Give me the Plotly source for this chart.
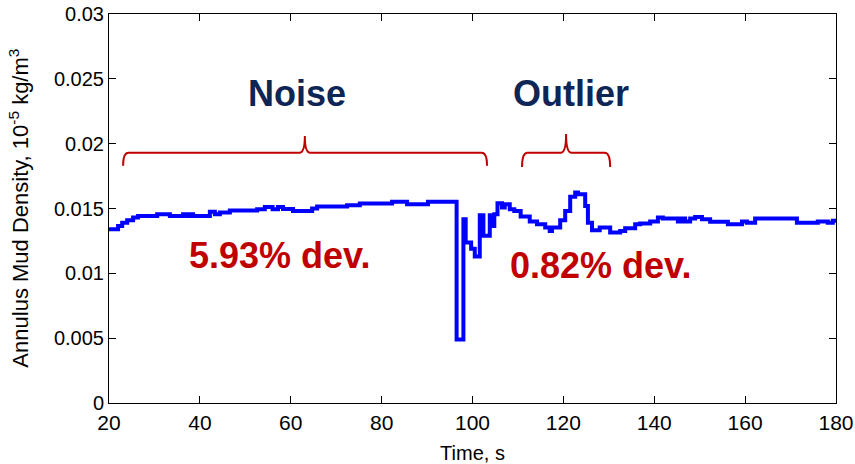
import plotly.graph_objects as go

# Stair-step record of annulus mud density (start time of each step, value)
time_s = [20, 22, 22.9, 24, 25.3, 26.4, 30.6, 33.4, 36.3, 37.2, 37.8, 38.5,
          42.2, 43.3, 44.4, 46.6, 52.6, 54.3, 56, 57.2, 58.3, 60.5, 64.7,
          65.8, 72.4, 75.2, 82.3, 85.6, 90.2, 96.5, 98.0, 98.5, 99.7, 100.5,
          101.6, 102.4, 103.8, 104.2, 104.8, 105.5, 106.5, 107.1, 108.2,
          109.2, 110.6, 112.6, 114.2, 116, 117, 117.5, 119.3, 120.4, 121.5,
          122.6, 123.2, 124.8, 125.4, 126.3, 128, 130.3, 132.5, 133.6, 135.8,
          136.9, 139.1, 140.8, 141.9, 145.2, 146, 146.8, 147.9, 149, 150.5,
          152.3, 156.2, 159.3, 160.4, 162.2, 171.4, 176, 178.2, 179.3, 180]
density = [0.0134, 0.01366, 0.0139, 0.0141, 0.0143, 0.01443, 0.01456, 0.01443,
           0.01456, 0.01443, 0.01456, 0.01443, 0.01474, 0.01456, 0.01469,
           0.01485, 0.01494, 0.01512, 0.01494, 0.01512, 0.01497, 0.01481,
           0.0150, 0.01515, 0.01525, 0.01538, 0.01553, 0.01533, 0.01553,
           0.0049, 0.01417, 0.01237, 0.0119, 0.01129, 0.01448, 0.01289,
           0.01448, 0.01366, 0.01456, 0.01541, 0.01507, 0.01533, 0.01494,
           0.01481, 0.01438, 0.0140, 0.01379, 0.01353, 0.01327, 0.01353,
           0.0141, 0.01481, 0.0159, 0.01623, 0.0161, 0.0152, 0.0139, 0.01332,
           0.01353, 0.01314, 0.01327, 0.01348, 0.01379, 0.01384, 0.0140,
           0.0143, 0.01422, 0.0140, 0.01422, 0.0140, 0.01422, 0.01435,
           0.01417, 0.01398, 0.01379, 0.0140, 0.0139, 0.01422, 0.0139,
           0.0140, 0.0139, 0.01405, 0.01405]

x_ticks = [20, 40, 60, 80, 100, 120, 140, 160, 180]
y_ticks = [0, 0.005, 0.01, 0.015, 0.02, 0.025, 0.03]
y_tick_text = ["0", "0.005", "0.01", "0.015", "0.02", "0.025", "0.03"]

# Brace spans: (start, peak, end) in seconds, and heights in density units
noise_brace = (23.1, 63.1, 103.2)
outlier_brace = (110.9, 120.6, 130.3)
brace_base = 0.0193
noise_tip, noise_peak = 0.0183, 0.0206
outlier_tip, outlier_peak = 0.0182, 0.02075

FONT = "Liberation Sans, Arial, sans-serif"
NAVY = "#0d2656"
RED = "#c00000"


def brace_path(x0, xm, x1, base, tip, peak, r=1.2):
    return (f"M {x0},{tip} Q {x0},{base} {x0 + r},{base} "
            f"L {xm - r},{base} Q {xm},{base} {xm},{peak} "
            f"Q {xm},{base} {xm + r},{base} "
            f"L {x1 - r},{base} Q {x1},{base} {x1},{tip}")


fig = go.Figure()
fig.add_trace(go.Scatter(
    x=time_s, y=density, mode="lines", line_shape="hv",
    line=dict(color="#0000ff", width=4), showlegend=False,
))

for (x0, xm, x1), tip, peak in [(noise_brace, noise_tip, noise_peak),
                                 (outlier_brace, outlier_tip, outlier_peak)]:
    fig.add_shape(type="path", xref="x", yref="y",
                  path=brace_path(x0, xm, x1, brace_base, tip, peak),
                  line=dict(color=RED, width=2))

labels = [
    ("Noise", 61.4, 0.0239, NAVY),
    ("Outlier", 121.7, 0.0239, NAVY),
    ("5.93% dev.", 57.6, 0.01134, RED),
    ("0.82% dev.", 128.1, 0.01057, RED),
]
for text, x, y, color in labels:
    fig.add_annotation(x=x, y=y, xref="x", yref="y", text=f"<b>{text}</b>",
                       showarrow=False, xanchor="center", yanchor="middle",
                       font=dict(family=FONT, size=36, color=color))

fig.add_annotation(
    x=-0.125, y=0.5, xref="paper", yref="paper", textangle=-90,
    text="Annulus Mud Density, 10<sup>-5</sup> kg/m<sup>3</sup>",
    showarrow=False, xanchor="center", yanchor="middle",
    font=dict(family=FONT, size=22, color="#000"),
)

axis_common = dict(showline=True, linecolor="#000", linewidth=1, mirror="allticks",
                   ticks="inside", ticklen=7, tickcolor="#000", showgrid=False,
                   zeroline=False, automargin=False)

fig.update_xaxes(range=[20, 180], tickvals=x_ticks,
                 tickfont=dict(family=FONT, size=21, color="#000"),
                 ticklabelstandoff=1,
                 title=dict(text="Time, s", font=dict(family=FONT, size=20, color="#000"),
                            standoff=12),
                 **axis_common)
fig.update_yaxes(range=[0, 0.03], tickvals=y_ticks, ticktext=y_tick_text,
                 tickfont=dict(family=FONT, size=20, color="#000"),
                 **axis_common)

fig.update_layout(
    width=855, height=464,
    margin=dict(l=109, r=19, t=14, b=61),
    paper_bgcolor="white", plot_bgcolor="white",
)

fig.write_html("out.html")
